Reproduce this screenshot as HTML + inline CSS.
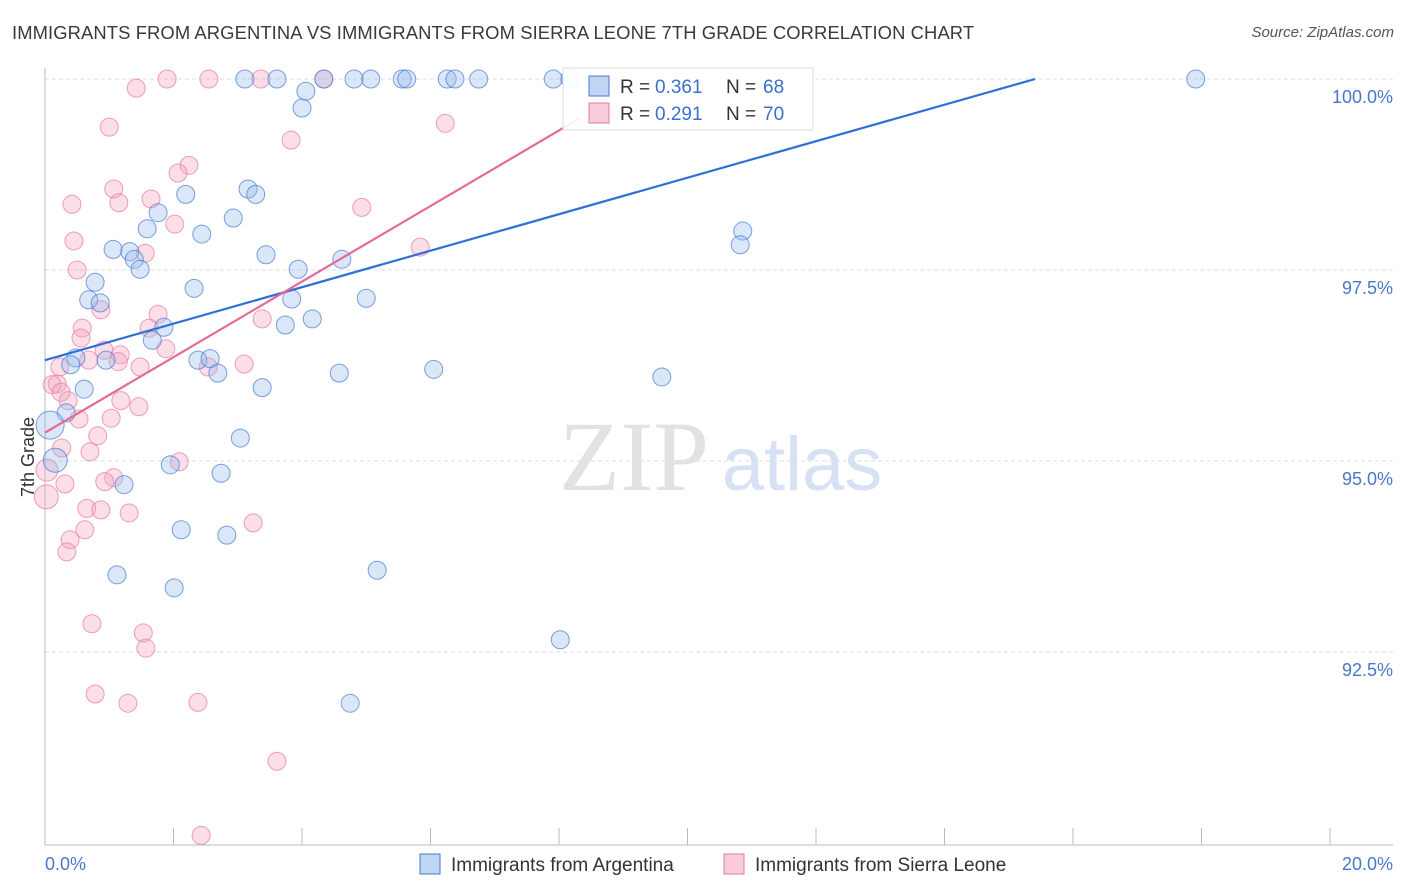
<!DOCTYPE html>
<html><head><meta charset="utf-8">
<style>
body{margin:0;background:#fff;font-family:"Liberation Sans",sans-serif;}
#wrap{position:relative;width:1406px;height:892px;overflow:hidden;}
.t{position:absolute;white-space:nowrap;}
</style></head>
<body><div id="wrap">
<div class="t" style="left:12px;top:22px;font-size:18.4px;color:#3a3a3a;letter-spacing:0.1px">IMMIGRANTS FROM ARGENTINA VS IMMIGRANTS FROM SIERRA LEONE 7TH GRADE CORRELATION CHART</div>
<div class="t" style="right:12px;top:24px;font-size:15px;color:#555;font-style:italic">Source: ZipAtlas.com</div>
<svg id="svg" width="1406" height="892" style="position:absolute;left:0;top:0"></svg>
</div>
<script>
const yTicks=[100,97.5,95,92.5];
const yTickLabels=["100.0%","97.5%","95.0%","92.5%"];
const xTickLabels=["0.0%","20.0%"];
const blueX=[3.11,3.61,4.34,4.81,5.07,5.56,5.63,6.26,6.38,6.75,7.91,8.17,17.91,4.06,4.00,3.16,3.28,2.19,1.76,2.93,1.59,2.44,1.06,1.32,1.39,1.48,3.44,3.94,4.62,0.78,2.32,0.68,0.86,3.84,5.00,1.85,3.74,4.16,1.67,0.48,0.95,2.38,2.57,2.69,0.40,4.58,6.05,9.60,0.61,3.38,0.33,0.08,3.04,0.16,1.95,2.74,1.23,2.12,2.83,1.12,5.17,2.01,8.02,4.75,10.86,10.82];
const blueY=[100,100,100,100,100,100,100,100,100,100,100,100,100,99.84,99.62,98.56,98.49,98.49,98.25,98.18,98.04,97.97,97.77,97.74,97.64,97.51,97.70,97.51,97.64,97.34,97.26,97.11,97.07,97.12,97.13,96.75,96.78,96.86,96.58,96.35,96.32,96.32,96.34,96.15,96.26,96.15,96.20,96.10,95.94,95.96,95.63,95.47,95.30,95.01,94.95,94.84,94.69,94.10,94.03,93.51,93.57,93.34,92.66,91.83,98.01,97.83];
const pinkX=[1.90,2.55,3.36,4.34,1.42,1.00,6.23,3.83,2.24,2.07,1.07,1.65,1.15,0.42,4.93,2.02,0.45,1.56,5.84,0.50,0.87,1.76,0.58,1.62,3.38,0.56,0.92,1.88,1.17,0.68,1.14,1.48,3.10,2.54,0.23,0.19,0.11,0.25,0.36,1.18,1.46,1.03,0.53,0.82,0.26,0.70,2.09,0.03,1.07,0.93,0.31,0.65,0.87,1.31,0.02,0.62,3.24,0.39,0.34,0.73,1.53,1.57,0.78,1.29,2.38,3.61,2.43];
const pinkY=[100,100,100,100,99.88,99.37,99.42,99.20,98.87,98.77,98.56,98.43,98.38,98.36,98.32,98.10,97.88,97.72,97.80,97.50,96.98,96.92,96.74,96.74,96.86,96.61,96.45,96.47,96.39,96.32,96.30,96.23,96.27,96.23,96.23,96.01,96.00,95.90,95.79,95.79,95.71,95.56,95.55,95.33,95.17,95.12,94.99,94.88,94.78,94.73,94.70,94.38,94.36,94.32,94.53,94.10,94.19,93.97,93.81,92.87,92.75,92.55,91.95,91.83,91.84,91.07,90.10];
const blueLine=[[0,96.32],[15.41,100]];
const pinkLine=[[0,95.37],[8.33,99.49]];
const legR=["0.361","0.291"], legN=["68","70"];
const sx=v=>45+v*64.25, sy=v=>79+(100-v)*76.4;
const svg=document.getElementById('svg');const NS='http://www.w3.org/2000/svg';
function mk(tag,attrs,name,txt){const e=document.createElementNS(NS,tag);for(const k in attrs)e.setAttribute(k,attrs[k]);


if(txt!==undefined)e.textContent=txt;svg.appendChild(e);return e;}
yTicks.forEach((t,i)=>{mk('line',{x1:45,x2:1393,y1:sy(t),y2:sy(t),stroke:'#ddd','stroke-dasharray':'4,3'},'gridline');
mk('text',{x:1393,y:sy(t)+24,'text-anchor':'end','font-size':18,fill:'#4a78c8','font-family':'Liberation Sans'},'y-tick-label',yTickLabels[i]);});
mk('line',{x1:45,x2:45,y1:68,y2:845,stroke:'#bbb'},'y-axis');
mk('line',{x1:45,x2:1393,y1:845,y2:845,stroke:'#bbb'},'x-axis');
for(let i=1;i<=10;i++){mk('line',{x1:sx(i*2),x2:sx(i*2),y1:828,y2:845,stroke:'#bbb'},'x-tick');}
mk('text',{x:45,y:870,'font-size':18,fill:'#4a78c8','font-family':'Liberation Sans'},'x-tick-label',xTickLabels[0]);
mk('text',{x:1393,y:870,'text-anchor':'end','font-size':18,fill:'#4a78c8','font-family':'Liberation Sans'},'x-tick-label',xTickLabels[1]);
mk('text',{x:34,y:457,'font-size':18,fill:'#333','font-family':'Liberation Sans','text-anchor':'middle',transform:'rotate(-90 34 457)'},'y-axis-title','7th Grade');
mk('text',{x:634,y:490,'font-size':100,fill:'#e2e2e2','font-family':'Liberation Serif','text-anchor':'middle'},'watermark-zip','ZIP');
mk('text',{x:802,y:490,'font-size':76,fill:'#d6e2f4','font-family':'Liberation Sans','text-anchor':'middle'},'watermark-atlas','atlas');
const bigIdx={51:14,53:12};
const bigPink={47:11,54:12};
pinkX.forEach((x,i)=>mk('circle',{cx:sx(x),cy:sy(pinkY[i]),r:bigPink[i]||9,fill:'rgba(244,160,188,0.35)',stroke:'rgba(232,120,160,0.7)','stroke-width':1},'sierra-leone-point'));
blueX.forEach((x,i)=>mk('circle',{cx:sx(x),cy:sy(blueY[i]),r:bigIdx[i]||9,fill:'rgba(150,185,235,0.35)',stroke:'rgba(70,120,210,0.7)','stroke-width':1},'argentina-point'));
mk('line',{x1:sx(blueLine[0][0]),y1:sy(blueLine[0][1]),x2:sx(blueLine[1][0]),y2:sy(blueLine[1][1]),stroke:'#2f6fd6','stroke-width':2.2},'argentina-trend-line');
mk('line',{x1:sx(pinkLine[0][0]),y1:sy(pinkLine[0][1]),x2:sx(pinkLine[1][0]),y2:sy(pinkLine[1][1]),stroke:'#e46a98','stroke-width':2.2},'sierra-leone-trend-line');
mk('rect',{x:563,y:68,width:250,height:62,fill:'rgba(255,255,255,0.9)',stroke:'#ddd'},'legend-box');
const cols=[['rgba(150,185,235,0.6)','#4a78c8'],['rgba(244,170,195,0.6)','#e07aa0']];
[0,1].forEach(i=>{const y=86+i*27;
mk('rect',{x:589,y:y-10,width:20,height:20,fill:cols[i][0],stroke:cols[i][1]},'legend-swatch');
mk('text',{x:620,y:y+7,'font-size':19,fill:'#333','font-family':'Liberation Sans'},'legend-r-label','R = ');
mk('text',{x:655,y:y+7,'font-size':19,fill:'#3a6fd0','font-family':'Liberation Sans'},'legend-r-value',legR[i]);
mk('text',{x:726,y:y+7,'font-size':19,fill:'#333','font-family':'Liberation Sans'},'legend-n-label','N = ');
mk('text',{x:763,y:y+7,'font-size':19,fill:'#3a6fd0','font-family':'Liberation Sans'},'legend-n-value',legN[i]);});
mk('rect',{x:420,y:854,width:20,height:20,fill:cols[0][0],stroke:cols[0][1]},'bottom-legend-swatch-argentina');
mk('text',{x:451,y:871,'font-size':19,fill:'#333','font-family':'Liberation Sans'},'bottom-legend-argentina','Immigrants from Argentina');
mk('rect',{x:724,y:854,width:20,height:20,fill:cols[1][0],stroke:cols[1][1]},'bottom-legend-swatch-sierra-leone');
mk('text',{x:755,y:871,'font-size':19,fill:'#333','font-family':'Liberation Sans'},'bottom-legend-sierra-leone','Immigrants from Sierra Leone');
</script>
</body></html>
